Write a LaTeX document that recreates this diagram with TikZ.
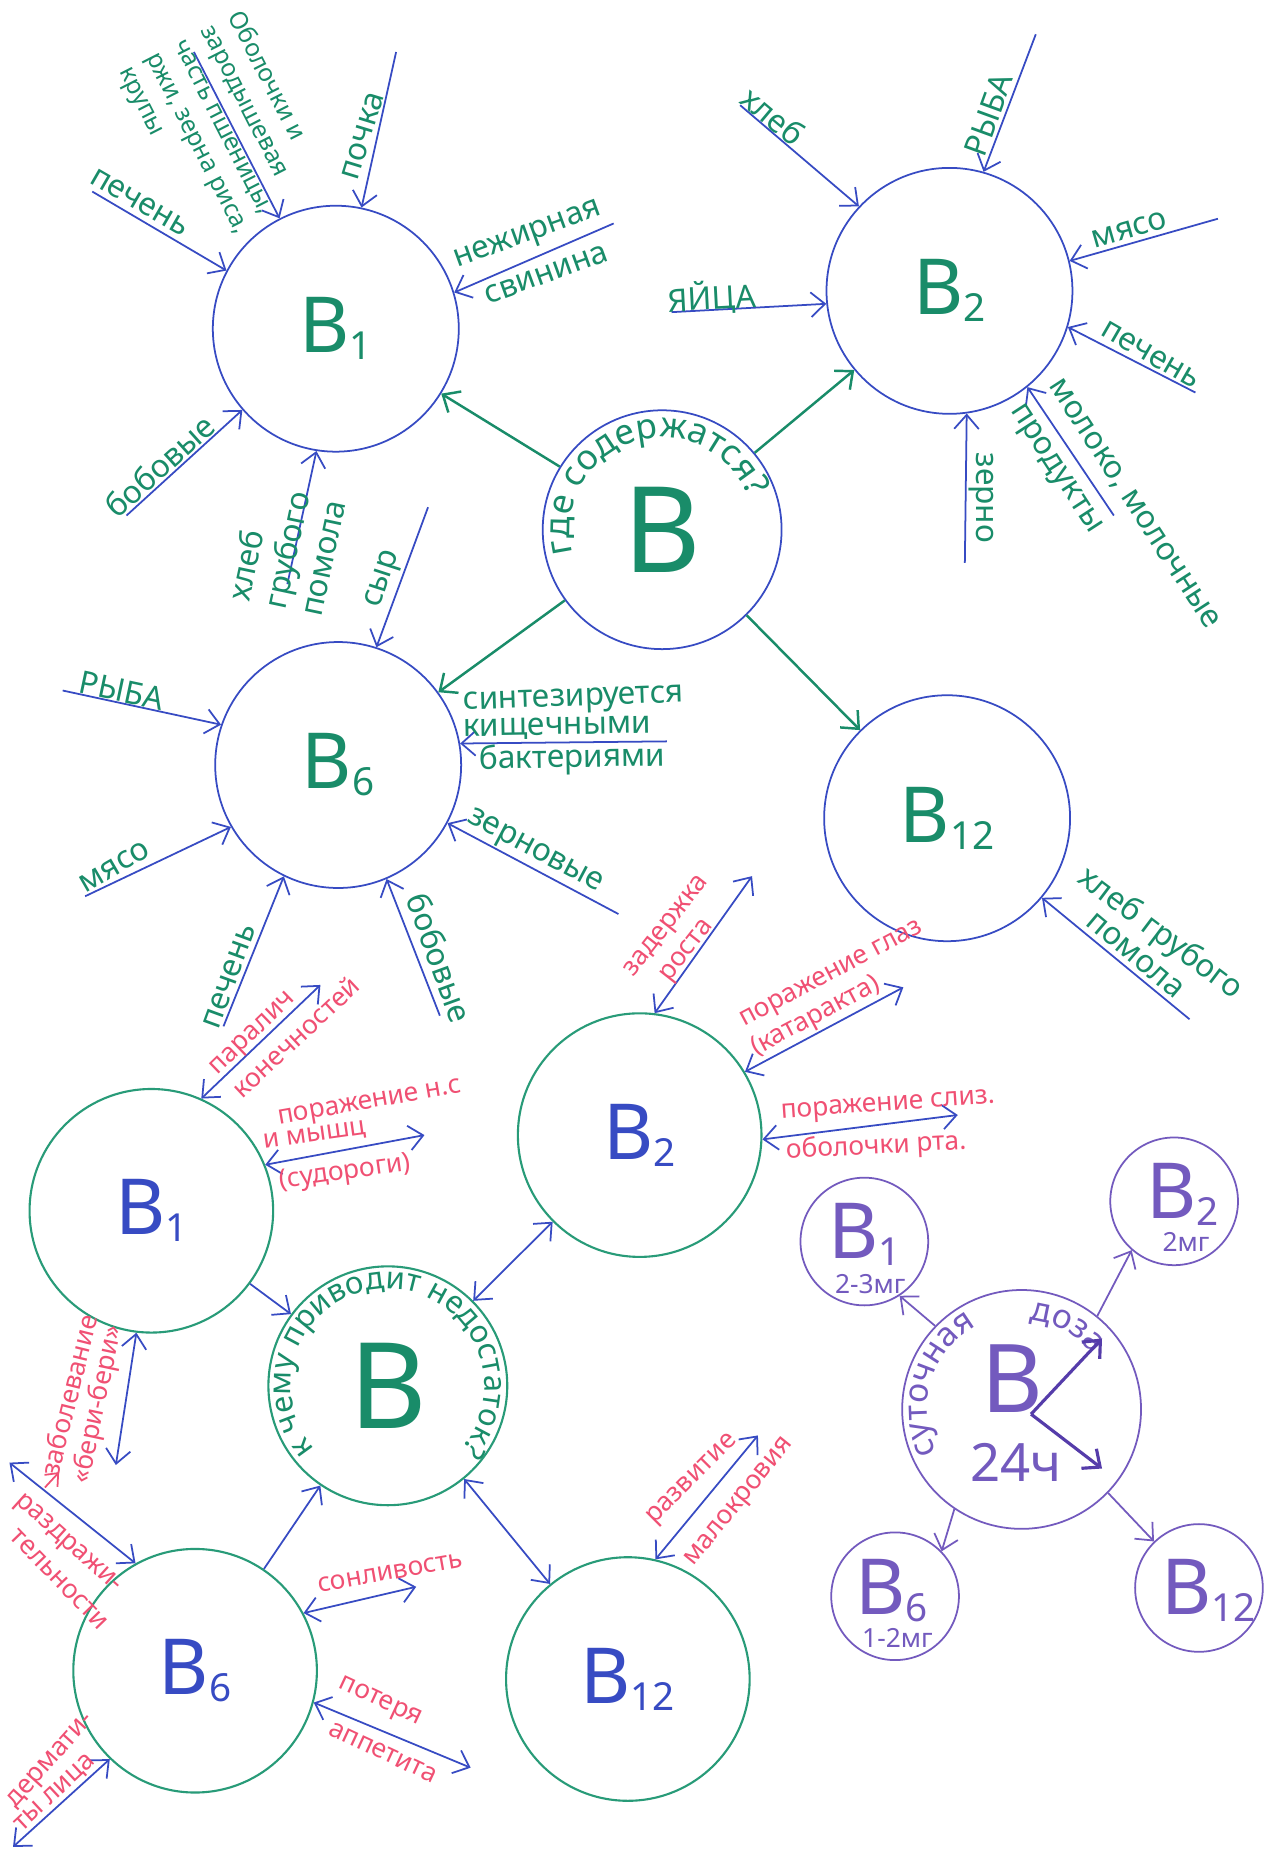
\documentclass[tikz,border=0pt]{standalone}
\usepackage{fontspec}
\setmainfont{Noto Sans}
\usetikzlibrary{arrows.meta,decorations.text}
\definecolor{penblue}{RGB}{55,75,195}
\definecolor{pengreen}{RGB}{25,140,105}
\definecolor{penteal}{RGB}{40,155,120}
\definecolor{penred}{RGB}{240,80,115}
\definecolor{penpurple}{RGB}{115,90,190}
\definecolor{penviolet}{RGB}{85,60,170}
\newcommand{\pxu}{0.011825cm}
\newcommand{\labf}{\fontsize{9}{10.5}\selectfont}
\newcommand{\symf}{\fontsize{7.5}{9}\selectfont}
\newcommand{\vitf}{\fontsize{22}{22}\selectfont}
\newcommand{\bigf}{\fontsize{34}{34}\selectfont}
\newcommand{\vsub}[1]{\raisebox{-2pt}{\fontsize{11}{11}\selectfont#1}}
\begin{document}
\begin{tikzpicture}[x=\pxu,y=-\pxu,
    barb/.tip={Straight Barb[length=4pt,width=7pt]},
    circ/.style={circle,inner sep=0pt,minimum size=2*#1*\pxu},
    food/.style={circ=104,draw=penblue,line width=0.5pt,text=pengreen,font=\vitf},
    lack/.style={circ=103,draw=penteal,line width=0.6pt,text=penblue,font=\vitf},
    dose/.style={circ=54,draw=penpurple,line width=0.5pt},
    lab/.style={text=pengreen,font=\labf,inner sep=1pt,align=left},
    sym/.style={text=penred,font=\symf,inner sep=1pt,align=left},
    feed/.style={penblue,line width=0.5pt,-barb},
    link/.style={penblue,line width=0.5pt,barb-barb},
    src/.style={pengreen,line width=0.7pt,-barb},
    doseline/.style={penpurple,line width=0.5pt,-barb},
    hand/.style={penviolet,line width=0.9pt,-barb}]
    \path[use as bounding box,fill=white] (0,0) rectangle (1074,1568);

    \node[food] at (284,278) (f1) {B\vsub{1}};
    \node[food] at (803,246) (f2) {B\vsub{2}};
    \node[food] at (286,647) (f6) {B\vsub{6}};
    \node[food] at (801,692) (f12) {B\vsub{12}};
    \node[food,circ=101,font=\bigf] at (560,448) (q1) {B};
    \path[decorate,decoration={text along path,text align=center,
        text={|\fontsize{10}{10}\selectfont\color{pengreen}|где содержатся?}}]
        (q1.center) ++(205:78*\pxu) arc[start angle=205,end angle=10,radius=78*\pxu];
    \draw[src] (q1) -- (f1);
    \draw[src] (q1) -- (f2);
    \draw[src] (q1) -- (f6);
    \draw[src] (q1) -- (f12);

    \coordinate (c11) at (78,162);
    \coordinate (c12) at (164,44);
    \coordinate (c13) at (335,44);
    \coordinate (c14) at (519,189);
    \coordinate (c15) at (107,436);
    \coordinate (c16) at (243,494);
    \draw[feed] (c11) -- (f1.152);
    \draw[feed] (c12) -- (f1.117);
    \draw[feed] (c13) -- (f1.78);
    \draw[feed] (c14) -- (f1.17);
    \draw[feed] (c15) -- (f1.221);
    \draw[feed] (c16) -- (f1.261);
    \node[lab,rotate=-30] at (118,171) (l11) {печень};
    \node[lab,rotate=-63,font=\fontsize{7}{8.7}\selectfont] at (190,110) (l12) {Оболочки и\\зародышевая\\часть пшеницы,\\ржи, зерна риса,\\крупы};
    \node[lab,rotate=73] at (307,115) (l13) {почка};
    \node[lab,rotate=20] at (447,200) (l14) {нежирная};
    \node[lab,rotate=20] at (462,232) (l15) {свинина};
    \node[lab,rotate=42] at (135,394) (l16) {бобовые};
    \node[lab,rotate=78] at (242,465) (l17) {хлеб\\грубого\\помола};

    \coordinate (c21) at (626,89);
    \coordinate (c22) at (876,29);
    \coordinate (c23) at (1030,185);
    \coordinate (c24) at (1011,332);
    \coordinate (c25) at (942,436);
    \coordinate (c26) at (816,476);
    \coordinate (c27) at (568,264);
    \draw[feed] (c21) -- (f2.137);
    \draw[feed] (c22) -- (f2.74);
    \draw[feed] (c23) -- (f2.14);
    \draw[feed] (c24) -- (f2.-17);
    \draw[feed] (c25) -- (f2.-51);
    \draw[feed] (c26) -- (f2.-82);
    \draw[feed] (c27) -- (f2.186);
    \node[lab,rotate=-40] at (654,98) (l21) {хлеб};
    \node[lab,rotate=70] at (836,97) (l22) {РЫБА};
    \node[lab,rotate=16] at (955,194) (l23) {мясо};
    \node[lab,rotate=-30] at (973,300) (l24) {печень};
    \node[lab,rotate=-57,font=\fontsize{9}{13}\selectfont] at (941,438) (l25) {молоко, молочные\\продукты};
    \node[lab,rotate=-90] at (830,421) (l26) {зерно};
    \node[lab,rotate=3] at (602,252) (l27) {ЯЙЦА};

    \coordinate (c61) at (53,584);
    \coordinate (c62) at (72,758);
    \coordinate (c63) at (189,868);
    \coordinate (c64) at (372,859);
    \coordinate (c65) at (523,773);
    \coordinate (c66) at (564,627);
    \coordinate (c67) at (362,429);
    \draw[feed] (c61) -- (f6.161);
    \draw[feed] (c62) -- (f6.210);
    \draw[feed] (c63) -- (f6.244);
    \draw[feed] (c64) -- (f6.-67);
    \draw[feed] (c65) -- (f6.-28);
    \draw[feed] (c66) -- (f6.10);
    \draw[feed] (c67) -- (f6.72);
    \node[lab,rotate=-12] at (103,584) (l61) {РЫБА};
    \node[lab,rotate=30] at (97,733) (l62) {мясо};
    \node[lab,rotate=70] at (194,826) (l63) {печень};
    \node[lab,rotate=-70] at (372,810) (l64) {бобовые};
    \node[lab,rotate=-28] at (452,721) (l65) {зерновые};
    \node[lab,rotate=2] at (485,593) (l66) {синтезируется};
    \node[lab,rotate=1] at (471,616) (l67) {кищечными};
    \node[lab,rotate=1] at (484,642) (l68) {бактериями};
    \node[lab,rotate=72] at (325,490) (l69) {сыр};

    \coordinate (c121) at (1006,862);
    \draw[feed] (c121) -- (f12.-40);
    \node[lab,rotate=-37] at (981,790) (l121) {хлеб грубого};
    \node[lab,rotate=-40] at (960,808) (l122) {помола};

    \node[lack] at (128,1024) (d1) {B\vsub{1}};
    \node[lack] at (541,960) (d2) {B\vsub{2}};
    \node[lack] at (165,1413) (d6) {B\vsub{6}};
    \node[lack] at (531,1420) (d12) {B\vsub{12}};
    \node[lack,circ=101,text=pengreen,font=\bigf] at (328,1172) (q2) {B};
    \path[decorate,decoration={text along path,text align=center,
        text={|\fontsize{8.8}{9}\selectfont\color{pengreen}|к чему приводит недостаток?}}]
        (q2.center) ++(234:82*\pxu) arc[start angle=234,end angle=-54,radius=82*\pxu];
    \draw[feed] (d1) -- (q2);
    \draw[link] (q2) -- (d2);
    \draw[feed] (d6) -- (q2);
    \draw[link] (q2) -- (d12);

    \coordinate (s11) at (271,833);
    \coordinate (s12) at (359,960);
    \coordinate (s13) at (98,1239);
    \draw[link] (s11) -- (d1.66);
    \draw[link] (s12) -- (d1.22);
    \draw[link] (s13) -- (d1.263);
    \node[sym,rotate=44] at (215,875) (m11) {паралич};
    \node[sym,rotate=43] at (250,877) (m12) {конечностей};
    \node[sym,rotate=10] at (313,934) (m13) {поражение н.с};
    \node[sym,rotate=8] at (266,961) (m14) {и мышц};
    \node[sym,rotate=8] at (292,992) (m15) {(судороги)};
    \node[sym,rotate=76] at (58,1180) (m16) {заболевание};
    \node[sym,rotate=78] at (83,1188) (m17) {«бери-бери»};

    \coordinate (s21) at (636,741);
    \coordinate (s22) at (764,835);
    \coordinate (s23) at (810,943);
    \draw[link] (s21) -- (d2.83);
    \draw[link] (s22) -- (d2.31);
    \draw[link] (s23) -- (d2.-2);
    \node[sym,rotate=52] at (565,784) (m21) {задержка};
    \node[sym,rotate=52] at (582,805) (m22) {роста};
    \node[sym,rotate=28] at (704,825) (m23) {поражение глаз};
    \node[sym,rotate=28] at (690,860) (m24) {(катаракта)};
    \node[sym,rotate=4] at (751,936) (m25) {поражение слиз.};
    \node[sym,rotate=3] at (741,970) (m26) {оболочки рта.};

    \coordinate (s61) at (8,1237);
    \coordinate (s62) at (352,1342);
    \coordinate (s63) at (398,1495);
    \coordinate (s64) at (11,1562);
    \draw[link] (s61) -- (d6.119);
    \draw[link] (s62) -- (d6.28);
    \draw[link] (s63) -- (d6.-15);
    \draw[link] (s64) -- (d6.226);
    \coordinate (r1) at (38,1258);
    \coordinate (r2) at (50,1245);
    \draw[penred,line width=0.5pt,-{Straight Barb[length=3pt,width=5pt]}] (r1) -- (r2);
    \node[sym,rotate=-42] at (57,1306) (m61) {раздражи-};
    \node[sym,rotate=-46] at (50,1336) (m62) {тельности};
    \node[sym,rotate=10] at (330,1330) (m63) {сонливость};
    \node[sym,rotate=-25] at (321,1440) (m64) {потеря};
    \node[sym,rotate=-25] at (324,1482) (m65) {аппетита};
    \node[sym,rotate=48] at (44,1490) (m66) {дермати-};
    \node[sym,rotate=43] at (47,1517) (m67) {ты лица};

    \coordinate (s121) at (641,1214);
    \draw[link] (s121) -- (d12.77);
    \node[sym,rotate=45] at (586,1252) (m121) {развитие};
    \node[sym,rotate=51] at (626,1271) (m122) {малокровия};

    \node[dose,circ=101] at (864,1192) (p0) {};
    \path[decorate,decoration={text along path,text align=center,
        text={|\fontsize{9.5}{10}\selectfont\color{penpurple}|суточная}}]
        (p0.center) ++(215:80*\pxu) arc[start angle=215,end angle=110,radius=80*\pxu];
    \path[decorate,decoration={text along path,text align=center,
        text={|\fontsize{9.5}{10}\selectfont\color{penpurple}|доза}}]
        (p0.center) ++(92:76*\pxu) arc[start angle=92,end angle=30,radius=76*\pxu];
    \node[text=penpurple,font=\fontsize{27}{27}\selectfont] at (856,1166) (p0b) {B};
    \node[text=penpurple,font=\fontsize{15}{15}\selectfont] at (859,1237) (p0h) {24ч};
    \coordinate (hub) at (872,1196);
    \coordinate (h1) at (932,1132);
    \coordinate (h2) at (932,1242);
    \draw[hand] (hub) -- (h1);
    \draw[hand] (hub) -- (h2);

    \node[dose] at (731,1050) (p1) {};
    \node[dose] at (993,1016) (p2) {};
    \node[dose] at (757,1350) (p6) {};
    \node[dose] at (1014,1343) (p12) {};
    \node[text=penpurple,font=\vitf] at (731,1044) (p1b) {B\vsub{1}};
    \node[text=penpurple,font=\symf] at (736,1086) (p1m) {2-3мг};
    \node[text=penpurple,font=\vitf] at (1000,1010) (p2b) {B\vsub{2}};
    \node[text=penpurple,font=\symf] at (1003,1050) (p2m) {2мг};
    \node[text=penpurple,font=\vitf] at (754,1345) (p6b) {B\vsub{6}};
    \node[text=penpurple,font=\symf] at (759,1385) (p6m) {1-2мг};
    \node[text=penpurple,font=\vitf] at (1022,1345) (p12b) {B\vsub{12}};
    \draw[doseline] (p0.136) -- (p1.-57);
    \draw[doseline] (p0.51) -- (p2.229);
    \draw[doseline] (p0.236) -- (p6.44);
    \draw[doseline] (p0.-44) -- (p12.134);
\end{tikzpicture}
\end{document}
